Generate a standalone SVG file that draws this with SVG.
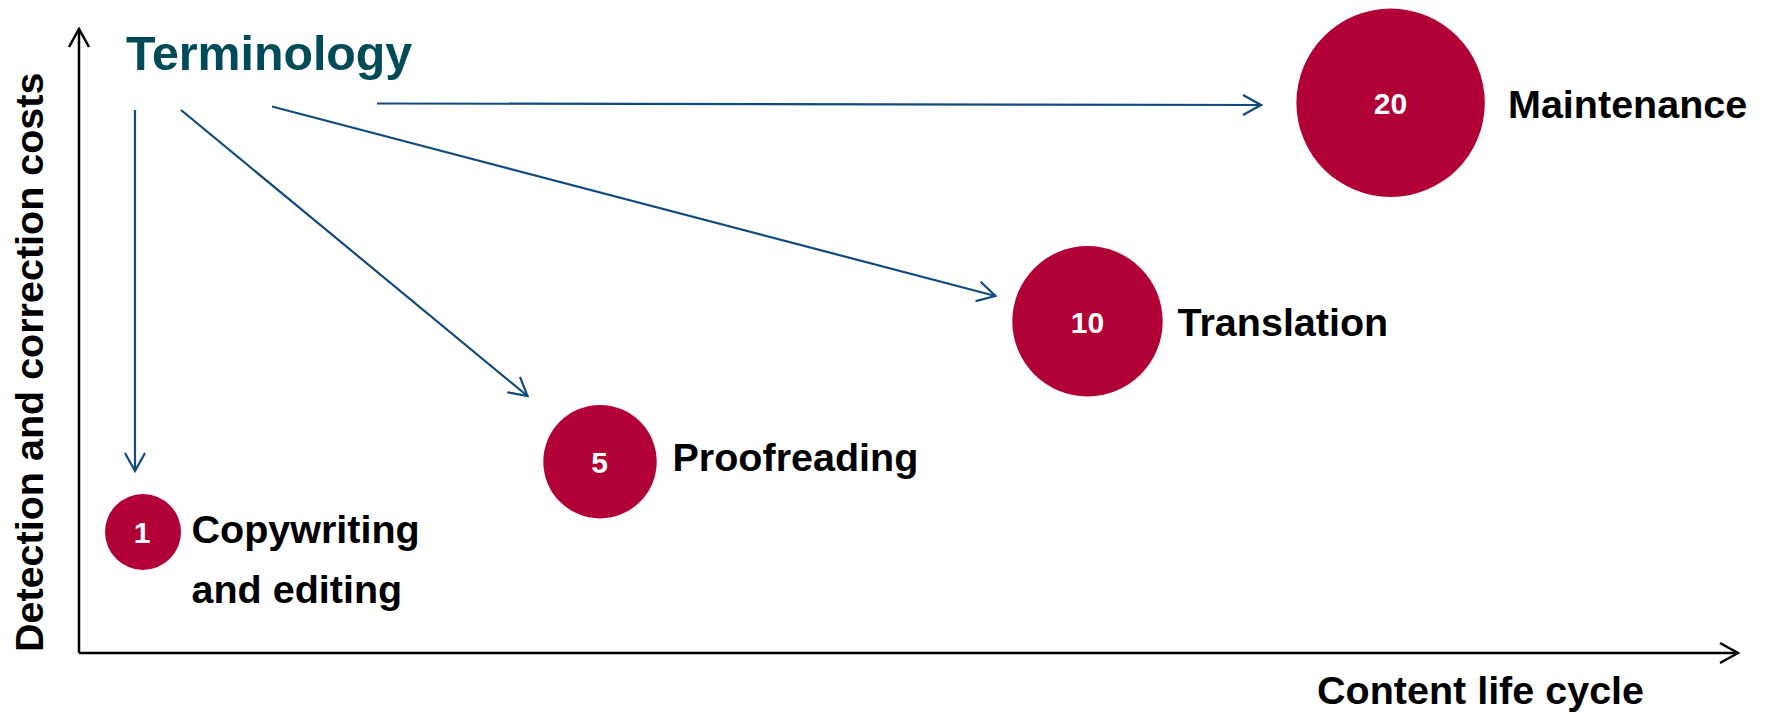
<svg xmlns="http://www.w3.org/2000/svg" width="1771" height="714" viewBox="0 0 1771 714">
<defs>
<marker id="arrK" markerUnits="userSpaceOnUse" viewBox="-20 -12 22 24" refX="0" refY="0" markerWidth="22" markerHeight="24" orient="auto">
<path d="M-18,-10 L0,0 L-18,10" fill="none" stroke="#000" stroke-width="2.5"/>
</marker>
<marker id="arrB" markerUnits="userSpaceOnUse" viewBox="-20 -12 22 24" refX="0" refY="0" markerWidth="22" markerHeight="24" orient="auto">
<path d="M-18,-10 L0,0 L-18,10" fill="none" stroke="#0F4A80" stroke-width="2.2"/>
</marker>
</defs>
<style>
.lbl{font-family:"Liberation Sans",Arial,sans-serif;font-weight:bold;font-size:39.5px;fill:#000}
.num{font-family:"Liberation Sans",Arial,sans-serif;font-weight:bold;font-size:30px;fill:#fff;text-anchor:middle}
.dot{fill:#B00035}
.axis{stroke:#000;stroke-width:2.5;fill:none}
.con{stroke:#0F4A80;stroke-width:2.2;fill:none}
</style>
<rect width="1771" height="714" fill="#fff"/>
<g id="axes">
<line class="axis" x1="79" y1="653" x2="79" y2="29" marker-end="url(#arrK)"/>
<line class="axis" x1="79" y1="653" x2="1738" y2="653" marker-end="url(#arrK)"/>
<text class="lbl" transform="translate(42.5,652) rotate(-90)">Detection and correction costs</text>
<text class="lbl" x="1317" y="704">Content life cycle</text>
</g>
<g id="terminology">
<text x="126" y="69.5" font-family="'Liberation Sans',Arial,sans-serif" font-weight="bold" font-size="48.3" fill="#004B58">Terminology</text>
</g>
<g id="connectors">
<line class="con" x1="135" y1="110" x2="135" y2="471" marker-end="url(#arrB)"/>
<line class="con" x1="181" y1="110" x2="527.5" y2="396" marker-end="url(#arrB)"/>
<line class="con" x1="272" y1="106.5" x2="995.5" y2="296" marker-end="url(#arrB)"/>
<line class="con" x1="377" y1="103.5" x2="1261" y2="105" marker-end="url(#arrB)"/>
</g>
<g id="node-copywriting">
<circle class="dot" cx="143" cy="532" r="38"/>
<text class="num" x="142" y="543">1</text>
<text class="lbl" x="191.5" y="543">Copywriting</text>
<text class="lbl" x="191.5" y="602.5">and editing</text>
</g>
<g id="node-proofreading">
<circle class="dot" cx="600" cy="461.7" r="56.7"/>
<text class="num" x="599.5" y="472.5">5</text>
<text class="lbl" x="672.5" y="471">Proofreading</text>
</g>
<g id="node-translation">
<circle class="dot" cx="1087.5" cy="321.3" r="75.2"/>
<text class="num" x="1087.5" y="332.5">10</text>
<text class="lbl" x="1177.5" y="335.5">Translation</text>
</g>
<g id="node-maintenance">
<circle class="dot" cx="1390.6" cy="102.8" r="94.2"/>
<text class="num" x="1390.5" y="114">20</text>
<text class="lbl" x="1508" y="118.3">Maintenance</text>
</g>
</svg>
